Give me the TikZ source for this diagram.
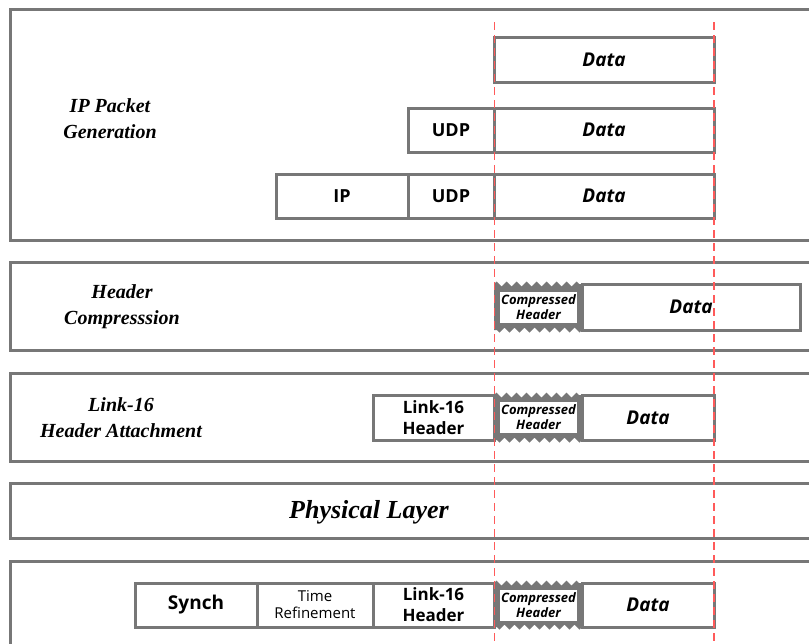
\documentclass[tikz,border=0pt]{standalone}
\usepackage{fontspec}
\setmainfont{Liberation Serif}
\newfontfamily\boxfont{Open Sans}
\usetikzlibrary{decorations.pathmorphing}
\definecolor{edge}{HTML}{777777}
\definecolor{guide}{HTML}{FF5A5A}
\tikzset{
  panel/.style={draw=edge, line width=3pt},
  fbox/.style={draw=edge, line width=3pt, fill=white, inner sep=0pt, align=center,
    font=\boxfont\bfseries\fontsize{18}{19}\selectfont},
  datbox/.style={fbox, font=\boxfont\bfseries\itshape\fontsize{19}{20}\selectfont},
  chbox/.style={fill=white, inner sep=0pt, minimum width=77pt, minimum height=31pt, align=center,
    font=\boxfont\bfseries\itshape\fontsize{13}{16}\selectfont},
  lab/.style={align=center, font=\bfseries\itshape\fontsize{20}{26}\selectfont},
  guideline/.style={draw=guide, line width=1.3pt, dash pattern=on 8pt off 5pt},
  zz/.style={decoration={zigzag, segment length=10pt, amplitude=2.5pt}}
}
\newcommand{\comphdr}[3]{%
  \fill[edge] (494,#2) decorate[zz]{-- (582,#2)} -- (582,#3) decorate[zz]{-- (494,#3)} -- cycle;
  \node[chbox] (#1) at (538.5,{(#2+#3)/2}) {Compressed\\[-1pt]Header};
}
\begin{document}
\begin{tikzpicture}[x=1pt,y=-1pt]
\useasboundingbox (0,0) rectangle (809,643);
\clip (0,0) rectangle (809,643);
% panels
\draw[panel] (10,9) rectangle (840,240);
\draw[panel] (10,262) rectangle (840,350);
\draw[panel] (10,373) rectangle (840,461);
\draw[panel] (10,483) rectangle (840,538);
\draw[panel] (10,561) rectangle (840,680);
% left labels
\node[lab] (l1) at (110,119) {IP Packet\\Generation};
\node[lab] (l2) at (122,307) {Header\\Compresssion};
\node[lab] (l3) at (121,418) {Link-16\\Header Attachment};
\node[lab, font=\bfseries\itshape\fontsize{26}{30}\selectfont] (l4) at (369,512) {Physical Layer};
% panel 1
\node[datbox, minimum width=220pt, minimum height=45pt] (d1) at (604,59.5) {Data};
\node[fbox, minimum width=86pt, minimum height=44pt] (u2) at (451,130) {UDP};
\node[datbox, minimum width=220pt, minimum height=44pt] (d2) at (604,130) {Data};
\node[fbox, minimum width=132pt, minimum height=44pt] (ip3) at (342,196) {IP};
\node[fbox, minimum width=86pt, minimum height=44pt] (u3) at (451,196) {UDP};
\node[datbox, minimum width=220pt, minimum height=44pt] (d3) at (604,196) {Data};
% panel 2
\comphdr{c2}{284}{330}
\node[datbox, minimum width=218pt, minimum height=46pt] (d4) at (691,307) {Data};
% panel 3
\node[fbox, minimum width=121pt, minimum height=45pt, font=\boxfont\bfseries\fontsize{17}{21}\selectfont] (h3) at (433.5,417.5) {Link-16\\Header};
\comphdr{c3}{395}{440}
\node[datbox, minimum width=132pt, minimum height=45pt] (d5) at (648,417.5) {Data};
% panel 5
\node[fbox, minimum width=122pt, minimum height=44pt, font=\boxfont\bfseries\fontsize{19}{20}\selectfont] (sy) at (196,605) {Synch};
\node[fbox, minimum width=116pt, minimum height=44pt, font=\boxfont\fontsize{15}{17}\selectfont] (tr) at (315,605) {Time\\Refinement};
\node[fbox, minimum width=121pt, minimum height=44pt, font=\boxfont\bfseries\fontsize{17}{21}\selectfont] (h5) at (433.5,605) {Link-16\\Header};
\comphdr{c5}{583}{627}
\node[datbox, minimum width=132pt, minimum height=44pt] (d6) at (648,605) {Data};
% guides
\coordinate (g1t) at (494.5,22);
\coordinate (g1b) at (494.5,643);
\coordinate (g2t) at (714,22);
\coordinate (g2b) at (714,643);
\draw[guideline] (g1t) -- (g1b);
\draw[guideline] (g2t) -- (g2b);
\end{tikzpicture}
\end{document}
